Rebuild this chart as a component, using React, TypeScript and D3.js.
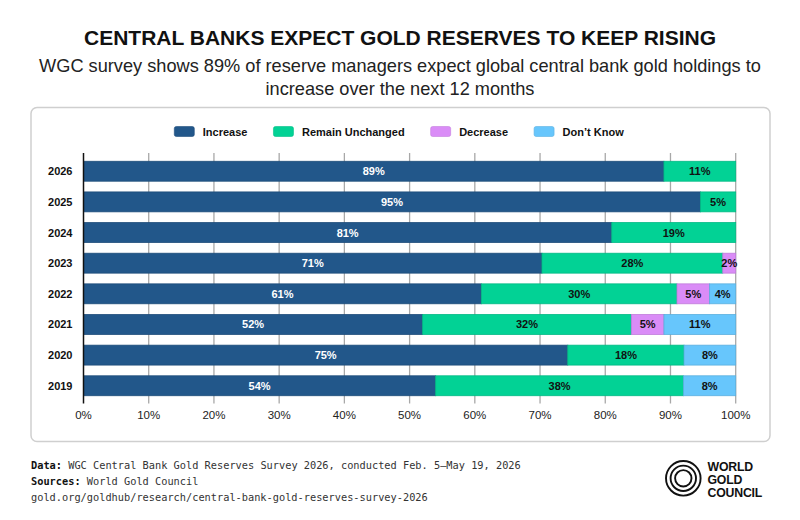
import React, { useRef, useEffect } from "react";
import * as d3 from "d3";

// Survey years, top to bottom
const years = ["2026", "2025", "2024", "2023", "2022", "2021", "2020", "2019"];

// Shares of reserve managers (%)
const increase = [89, 94.5, 81, 71, 61, 52, 75, 54];
const unchanged = [11, 5.4, 19, 28, 30, 32, 18, 38];
const decrease = [0, 0, 0, 2, 5, 5, 0, 0];
const dontKnow = [0, 0, 0, 0, 4, 11, 8, 8];

const seriesKeys = ["Increase", "Remain Unchanged", "Decrease", "Don\u2019t Know"];
const seriesColors = ["#22578a", "#02d295", "#da8cf7", "#67c6fc"];
const labelColors = ["#ffffff", "#111111", "#111111", "#111111"];

const xTicks = [0, 0.1, 0.2, 0.3, 0.4, 0.5, 0.6, 0.7, 0.8, 0.9, 1];

const title = "CENTRAL BANKS EXPECT GOLD RESERVES TO KEEP RISING";
const subtitleLines = [
    "WGC survey shows 89% of reserve managers expect global central bank gold holdings to",
    "increase over the next 12 months",
];
const footer = [
    { bold: "Data: ", text: "WGC Central Bank Gold Reserves Survey 2026, conducted Feb. 5\u2013May 19, 2026" },
    { bold: "Sources: ", text: "World Gold Council" },
    { bold: "", text: "gold.org/goldhub/research/central-bank-gold-reserves-survey-2026" },
];
const logoLines = ["WORLD", "GOLD", "COUNCIL"];

type Row = { year: string; [key: string]: number | string };

export default function App() {
    const svgRef = useRef<SVGSVGElement>(null);

    useEffect(() => {
        if (!svgRef.current) return;
        document.body.style.margin = "0";
        const svg = d3.select(svgRef.current);
        svg.selectAll("*").remove();

        const W = 800;
        const H = 520;
        svg.attr("width", W).attr("height", H);
        svg.append("rect").attr("width", W).attr("height", H).attr("fill", "#fff");

        const sans = "'Liberation Sans', Arial, Helvetica, sans-serif";
        const mono = "'DejaVu Sans Mono', monospace";

        // Title + subtitle
        svg.append("text")
            .attr("x", W / 2)
            .attr("y", 45)
            .attr("text-anchor", "middle")
            .attr("font-family", sans)
            .attr("font-weight", "bold")
            .attr("font-size", 21)
            .attr("fill", "#111")
            .text(title);

        subtitleLines.forEach((line, i) => {
            svg.append("text")
                .attr("x", W / 2)
                .attr("y", 72 + i * 23)
                .attr("text-anchor", "middle")
                .attr("font-family", sans)
                .attr("font-size", 18.2)
                .attr("fill", "#222")
                .text(line);
        });

        // Panel
        svg.append("rect")
            .attr("x", 31)
            .attr("y", 107.5)
            .attr("width", 739)
            .attr("height", 334)
            .attr("rx", 6)
            .attr("fill", "none")
            .attr("stroke", "#cfcfcf")
            .attr("stroke-width", 1.5);

        // Legend
        const legend = svg.append("g");
        let lx = 0;
        seriesKeys.forEach((key, i) => {
            const item = legend.append("g").attr("transform", `translate(${lx},0)`);
            item.append("rect")
                .attr("x", 0)
                .attr("y", -5)
                .attr("width", 20)
                .attr("height", 10)
                .attr("rx", 2)
                .attr("fill", seriesColors[i])
                .attr("stroke", d3.color(seriesColors[i])!.darker(0.3).toString())
                .attr("stroke-width", 0.6);
            const t = item.append("text")
                .attr("x", 28.5)
                .attr("y", 4)
                .attr("font-family", sans)
                .attr("font-weight", "bold")
                .attr("font-size", 11)
                .attr("fill", "#111")
                .text(key);
            const tw = (t.node() as SVGTextElement).getComputedTextLength();
            lx += 28.5 + tw + 26;
        });
        const legendWidth = lx - 26;
        legend.attr("transform", `translate(${399 - legendWidth / 2},131.5)`);

        // Scales
        const x = d3.scaleLinear().domain([0, 1]).range([83.5, 735.7]);
        const y = d3.scaleBand<string>()
            .domain(years)
            .range([153, 404])
            .paddingInner(0.35)
            .paddingOuter(0.27);

        const rows: Row[] = years.map((year, i) => ({
            year,
            [seriesKeys[0]]: increase[i],
            [seriesKeys[1]]: unchanged[i],
            [seriesKeys[2]]: decrease[i],
            [seriesKeys[3]]: dontKnow[i],
        }));

        const stacked = d3.stack<Row>()
            .keys(seriesKeys)
            .value((d, key) => d[key] as number)
            .offset(d3.stackOffsetExpand)(rows);

        // Grid lines
        const gridTop = 153;
        const gridBottom = 403.5;
        svg.append("g")
            .selectAll("line")
            .data(xTicks.slice(1))
            .join("line")
            .attr("x1", d => x(d))
            .attr("x2", d => x(d))
            .attr("y1", gridTop)
            .attr("y2", gridBottom)
            .attr("stroke", "#a8a8a8")
            .attr("stroke-width", 1.3);

        // Bars
        stacked.forEach((layer, si) => {
            const g = svg.append("g");
            g.selectAll("rect")
                .data(layer.filter(d => d[1] - d[0] > 0))
                .join("rect")
                .attr("x", d => x(d[0]))
                .attr("y", d => y(d.data.year)!)
                .attr("width", d => x(d[1]) - x(d[0]))
                .attr("height", y.bandwidth())
                .attr("fill", seriesColors[si])
                .attr("stroke", d3.color(seriesColors[si])!.darker(0.35).toString())
                .attr("stroke-width", 0.8);
        });

        // Segment labels
        const fmt = d3.format(".0f");
        stacked.forEach((layer, si) => {
            svg.append("g")
                .selectAll("text")
                .data(layer.filter(d => d[1] - d[0] > 0))
                .join("text")
                .attr("x", d => (x(d[0]) + x(d[1])) / 2)
                .attr("y", d => y(d.data.year)! + y.bandwidth() / 2 + 4)
                .attr("text-anchor", "middle")
                .attr("font-family", sans)
                .attr("font-weight", "bold")
                .attr("font-size", 11)
                .attr("fill", labelColors[si])
                .text(d => `${fmt(d.data[seriesKeys[si]] as number)}%`);
        });

        // Y axis
        svg.append("line")
            .attr("x1", x(0))
            .attr("x2", x(0))
            .attr("y1", gridTop)
            .attr("y2", gridBottom)
            .attr("stroke", "#111")
            .attr("stroke-width", 1.5);

        svg.append("g")
            .selectAll("text")
            .data(years)
            .join("text")
            .attr("x", 72.5)
            .attr("y", d => y(d)! + y.bandwidth() / 2 + 4)
            .attr("text-anchor", "end")
            .attr("font-family", sans)
            .attr("font-weight", "bold")
            .attr("font-size", 11)
            .attr("fill", "#111")
            .text(d => d);

        // X tick labels
        const pct = d3.format(".0%");
        svg.append("g")
            .selectAll("text")
            .data(xTicks)
            .join("text")
            .attr("x", d => x(d))
            .attr("y", 419)
            .attr("text-anchor", "middle")
            .attr("font-family", sans)
            .attr("font-size", 11.5)
            .attr("fill", "#222")
            .text(d => pct(d));

        // Footer
        footer.forEach((f, i) => {
            const t = svg.append("text")
                .attr("x", 31)
                .attr("y", 469 + i * 16)
                .attr("font-family", mono)
                .attr("font-size", 10.3)
                .attr("fill", "#333");
            if (f.bold) t.append("tspan").attr("font-weight", "bold").attr("fill", "#111").text(f.bold);
            t.append("tspan").text(f.text);
        });

        // Logo
        const logo = svg.append("g").attr("transform", "translate(683.3,478.3)");
        [17.3, 12.7, 8.2].forEach(r => {
            logo.append("circle")
                .attr("r", r)
                .attr("fill", "none")
                .attr("stroke", "#111")
                .attr("stroke-width", 1.9);
        });
        logoLines.forEach((line, i) => {
            svg.append("text")
                .attr("x", 707.5)
                .attr("y", 470.5 + i * 13.3)
                .attr("font-family", sans)
                .attr("font-weight", "bold")
                .attr("font-size", 12.3)
                .attr("letter-spacing", -0.2)
                .attr("fill", "#111")
                .text(line);
        });
    }, []);

    return <svg ref={svgRef} style={{ display: "block" }} />;
}
